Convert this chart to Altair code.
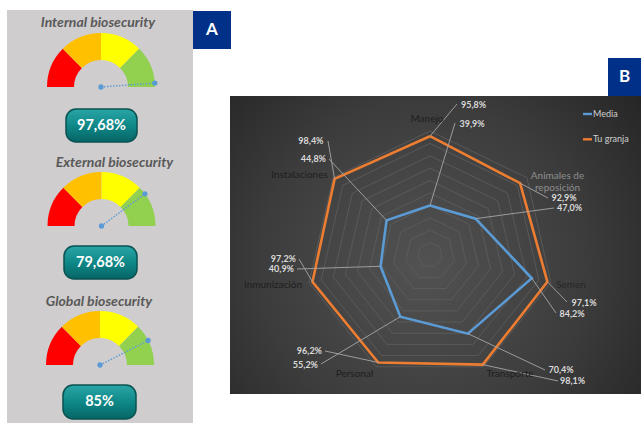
import math
import altair as alt
import pandas as pd

W, H = 641, 425

# ---------------- data ----------------
categories = ["Manejo", "Animales de reposición", "Semen", "Transporte",
              "Personal", "Inmunización", "Instalaciones"]
media = [39.9, 47.0, 84.2, 70.4, 55.2, 40.9, 44.8]
tu_granja = [95.8, 92.9, 97.1, 98.1, 96.2, 97.2, 98.4]
series_names = ["Media", "Tu granja"]
ring_levels = [10, 20, 30, 40, 50, 60, 70, 80, 90, 100]

gauge_titles = ["Internal biosecurity", "External biosecurity", "Global biosecurity"]
gauge_values = [97.68, 79.68, 85.0]
band_names = ["b1", "b2", "b3", "b4"]
band_edges = [0, 25, 50, 75, 100]

panel_letters = ["A", "B"]

# ---------------- styles & layout ----------------
FONT = "Lato"
series_colors = ["#5B9BD5", "#ED7D31"]
band_colors = ["#FF0000", "#FFC000", "#FFFF00", "#92D050"]
CX, CY, R = 430, 255, 124          # radar centre and 100 % radius (px)
G_OUT, G_IN = 54, 27               # gauge radii (px)
gauge_cx = [101, 101.5, 100]
gauge_cy = [87, 226, 365]
gauge_title_xy = [(98, 23), (114.5, 163), (99, 302)]
gauge_box = [(66, 137, 109, 142), (64, 137, 246, 279), (63, 136, 385, 419)]
letter_box = [(193, 231, 11, 49), (608, 641, 58, 96)]

cat_label_pos = [(427, 118.5), (557.5, 175.5), (571, 284.5), (510, 373.5),
                 (354.5, 373.5), (273, 284.5), (299.5, 174.5)]
cat_label_col = ["#1e1e1e", "#8f8f8f", "#262626", "#1e1e1e",
                 "#1e1e1e", "#1e1e1e", "#1e1e1e"]
cat_wrap = {"Animales de reposición": "Animales de\nreposición"}
# text x, text y, align, leader end x, leader end y
lab_granja = [(461, 105, "left", 457, 104), (551.5, 197.5, "left", 548, 198),
              (571.5, 303, "left", 567, 302), (560, 381, "left", 558, 381),
              (322, 351, "right", 325, 351), (296, 258.5, "right", 299, 259),
              (323.5, 141, "right", 328, 141)]
lab_media = [(459.5, 124, "left", 455, 123), (557, 207.5, "left", 554, 208),
             (559.5, 313.5, "left", 556, 313), (548.5, 370, "left", 545, 370),
             (318, 364.5, "right", 321, 364), (294, 269, "right", 297, 269),
             (326, 159, "right", 329, 159)]
legend_y = [114, 139.3]

XS = alt.Scale(domain=[0, W], range=[0, W])
YS = alt.Scale(domain=[0, H], range=[0, H])


def X(f):
    return alt.X(f, type="quantitative", scale=XS, axis=None)


def Y(f):
    return alt.Y(f, type="quantitative", scale=YS, axis=None)


def fmt(v, nd):
    s = f"{v:.{nd}f}" if nd else f"{v:g}"
    return s.replace(".", ",") + "%"


one = pd.DataFrame({"k": [0]})

# ---------------- backgrounds ----------------
left_bg = alt.Chart(one).mark_rect(color="#CFCDCE").encode(
    x=alt.value(7), x2=alt.value(193), y=alt.value(10), y2=alt.value(423))

radar_bg = alt.Chart(one).mark_rect(
    color=alt.RadialGradient(
        gradient="radial",
        stops=[alt.GradientStop(color="#525252", offset=0),
               alt.GradientStop(color="#3c3c3c", offset=0.55),
               alt.GradientStop(color="#222222", offset=1)],
        x1=0.47, y1=0.55, x2=0.47, y2=0.55, r1=0, r2=0.72)
).encode(x=alt.value(230), x2=alt.value(641), y=alt.value(96), y2=alt.value(394))

letters_df = pd.DataFrame({
    "letter": panel_letters,
    "x0": [b[0] for b in letter_box], "x1": [b[1] for b in letter_box],
    "y0": [b[2] for b in letter_box], "y1": [b[3] for b in letter_box]})
letters_df["xm"] = (letters_df.x0 + letters_df.x1) / 2
letters_df["ym"] = (letters_df.y0 + letters_df.y1) / 2
letter_rect = alt.Chart(letters_df).mark_rect(color="#003087").encode(
    x=X("x0"), x2="x1", y=Y("y0"), y2="y1")
letter_text = alt.Chart(letters_df).mark_text(
    font=FONT, fontSize=17, fontWeight="bold", color="white",
    align="center", baseline="middle").encode(x=X("xm"), y=Y("ym"), text="letter:N")

# ---------------- radar ----------------
polar = dict(
    ang="2*PI*datum.idx/7",
    px=f"{CX} + {R}*datum.value/100*sin(datum.ang)",
    py=f"{CY} - {R}*datum.value/100*cos(datum.ang)")

rings_df = pd.DataFrame([{"ring": lv, "idx": i, "value": lv}
                         for lv in ring_levels for i in range(8)])
rings = alt.Chart(rings_df).transform_calculate(**polar).mark_line(
    color="#5e5e5e", strokeWidth=0.8).encode(
    x=X("px"), y=Y("py"), detail="ring:N", order="idx:Q")

poly_rows = []
for s, vals in zip(series_names, [media, tu_granja]):
    for i in range(8):
        poly_rows.append({"series": s, "idx": i, "value": vals[i % 7]})
poly_df = pd.DataFrame(poly_rows)
series_scale = alt.Scale(domain=series_names, range=series_colors)
polys = alt.Chart(poly_df).transform_calculate(**polar).mark_line(
    strokeWidth=2.6, strokeJoin="miter").encode(
    x=X("px"), y=Y("py"),
    color=alt.Color("series:N", scale=series_scale, legend=None),
    order="idx:Q")

lab_rows = []
for s, vals, lay in [("Media", media, lab_media), ("Tu granja", tu_granja, lab_granja)]:
    for i, v in enumerate(vals):
        tx, ty, al, lx, ly = lay[i]
        lab_rows.append({"series": s, "idx": i, "value": v, "label": fmt(v, 1),
                         "tx": tx, "ty": ty, "side": al, "lx": lx, "ly": ly})
lab_df = pd.DataFrame(lab_rows)
leaders = alt.Chart(lab_df).transform_calculate(**polar).mark_rule(
    color="#a6a6a6", strokeWidth=0.9).encode(
    x=X("px"), y=Y("py"), x2="lx", y2="ly")
lab_left = alt.Chart(lab_df).transform_filter("datum.side == 'left'").mark_text(
    font=FONT, fontSize=9, fontWeight="bold", color="#d9d9d9",
    align="left", baseline="middle").encode(x=X("tx"), y=Y("ty"), text="label:N")
lab_right = alt.Chart(lab_df).transform_filter("datum.side == 'right'").mark_text(
    font=FONT, fontSize=9, fontWeight="bold", color="#d9d9d9",
    align="right", baseline="middle").encode(x=X("tx"), y=Y("ty"), text="label:N")

cat_df = pd.DataFrame({
    "cat": [cat_wrap.get(c, c) for c in categories],
    "x": [p[0] for p in cat_label_pos], "y": [p[1] for p in cat_label_pos],
    "col": cat_label_col})
cat_text = alt.Chart(cat_df).mark_text(
    font=FONT, fontSize=10, align="center", baseline="middle",
    lineBreak="\n", lineHeight=12.5).encode(
    x=X("x"), y=Y("y"), text="cat:N",
    color=alt.Color("col:N", scale=None))

leg_df = pd.DataFrame({"series": series_names, "y": legend_y,
                       "x0": [583, 583], "x1": [592, 592], "tx": [593, 593]})
leg_lines = alt.Chart(leg_df).mark_rule(strokeWidth=2.4).encode(
    x=X("x0"), x2="x1", y=Y("y"),
    color=alt.Color("series:N", scale=series_scale, legend=None))
leg_text = alt.Chart(leg_df).mark_text(
    font=FONT, fontSize=9, color="#d0d0d0", align="left", baseline="middle").encode(
    x=X("tx"), y=Y("y"), text="series:N")

# ---------------- gauges ----------------
arc_rows = []
for g in range(3):
    for b in range(4):
        arc_rows.append({"g": g, "cx": gauge_cx[g], "cy": gauge_cy[g],
                         "band": band_names[b], "start": band_edges[b],
                         "end": band_edges[b + 1]})
arc_df = pd.DataFrame(arc_rows)
arcs = alt.Chart(arc_df).mark_arc(radius=G_OUT, radius2=G_IN).encode(
    x=X("cx"), y=Y("cy"),
    theta=alt.Theta("start:Q", stack=None,
                    scale=alt.Scale(domain=[0, 100],
                                    range=[1.5 * math.pi, 2.5 * math.pi])),
    theta2="end:Q",
    color=alt.Color("band:N", scale=alt.Scale(domain=band_names, range=band_colors),
                    legend=None))

g_df = pd.DataFrame({
    "title": gauge_titles, "value": gauge_values,
    "label": [fmt(v, 0) for v in gauge_values],
    "cx": gauge_cx, "cy": gauge_cy,
    "tx": [p[0] for p in gauge_title_xy], "ty": [p[1] for p in gauge_title_xy],
    "bx0": [b[0] for b in gauge_box], "bx1": [b[1] for b in gauge_box],
    "by0": [b[2] for b in gauge_box], "by1": [b[3] for b in gauge_box]})
g_df["bxm"] = (g_df.bx0 + g_df.bx1) / 2
g_df["bym"] = (g_df.by0 + g_df.by1) / 2
needle_calc = dict(
    nang="PI*(1 - datum.value/100)",
    ex=f"datum.cx + {G_OUT}*cos(datum.nang)",
    ey=f"datum.cy - {G_OUT}*sin(datum.nang)")
needle = alt.Chart(g_df).transform_calculate(**needle_calc).mark_rule(
    color="#5B9BD5", strokeWidth=1.4, strokeDash=[1.5, 1.5]).encode(
    x=X("cx"), y=Y("cy"), x2="ex", y2="ey")
needle_c = alt.Chart(g_df).mark_circle(size=28, color="#5B9BD5", opacity=1).encode(
    x=X("cx"), y=Y("cy"))
needle_e = alt.Chart(g_df).transform_calculate(**needle_calc).mark_circle(
    size=28, color="#5B9BD5", opacity=1).encode(x=X("ex"), y=Y("ey"))
g_title = alt.Chart(g_df).mark_text(
    font=FONT, fontSize=14, fontWeight="bold", fontStyle="italic",
    color="#595959", align="center", baseline="middle").encode(
    x=X("tx"), y=Y("ty"), text="title:N")
g_box = alt.Chart(g_df).mark_rect(
    cornerRadius=10, stroke="#0a5252", strokeWidth=1.5,
    color=alt.LinearGradient(
        gradient="linear",
        stops=[alt.GradientStop(color="#2aa5a5", offset=0),
               alt.GradientStop(color="#0f8888", offset=0.5),
               alt.GradientStop(color="#066565", offset=1)],
        x1=0, y1=0, x2=0, y2=1)).encode(
    x=X("bx0"), x2="bx1", y=Y("by0"), y2="by1")
g_val = alt.Chart(g_df).mark_text(
    font=FONT, fontSize=14.5, fontWeight="bold", color="white",
    align="center", baseline="middle").encode(
    x=X("bxm"), y=Y("bym"), text="label:N")

chart = alt.layer(
    left_bg, radar_bg, letter_rect, letter_text,
    rings, polys, leaders, lab_left, lab_right, cat_text, leg_lines, leg_text,
    arcs, needle, needle_c, needle_e, g_title, g_box, g_val
).resolve_scale(color="independent").properties(
    width=W, height=H, padding=0, background="white",
    autosize=alt.AutoSizeParams(type="none")
).configure_view(stroke=None)

chart.save("out.html", embed_options={"renderer": "svg", "actions": False})
